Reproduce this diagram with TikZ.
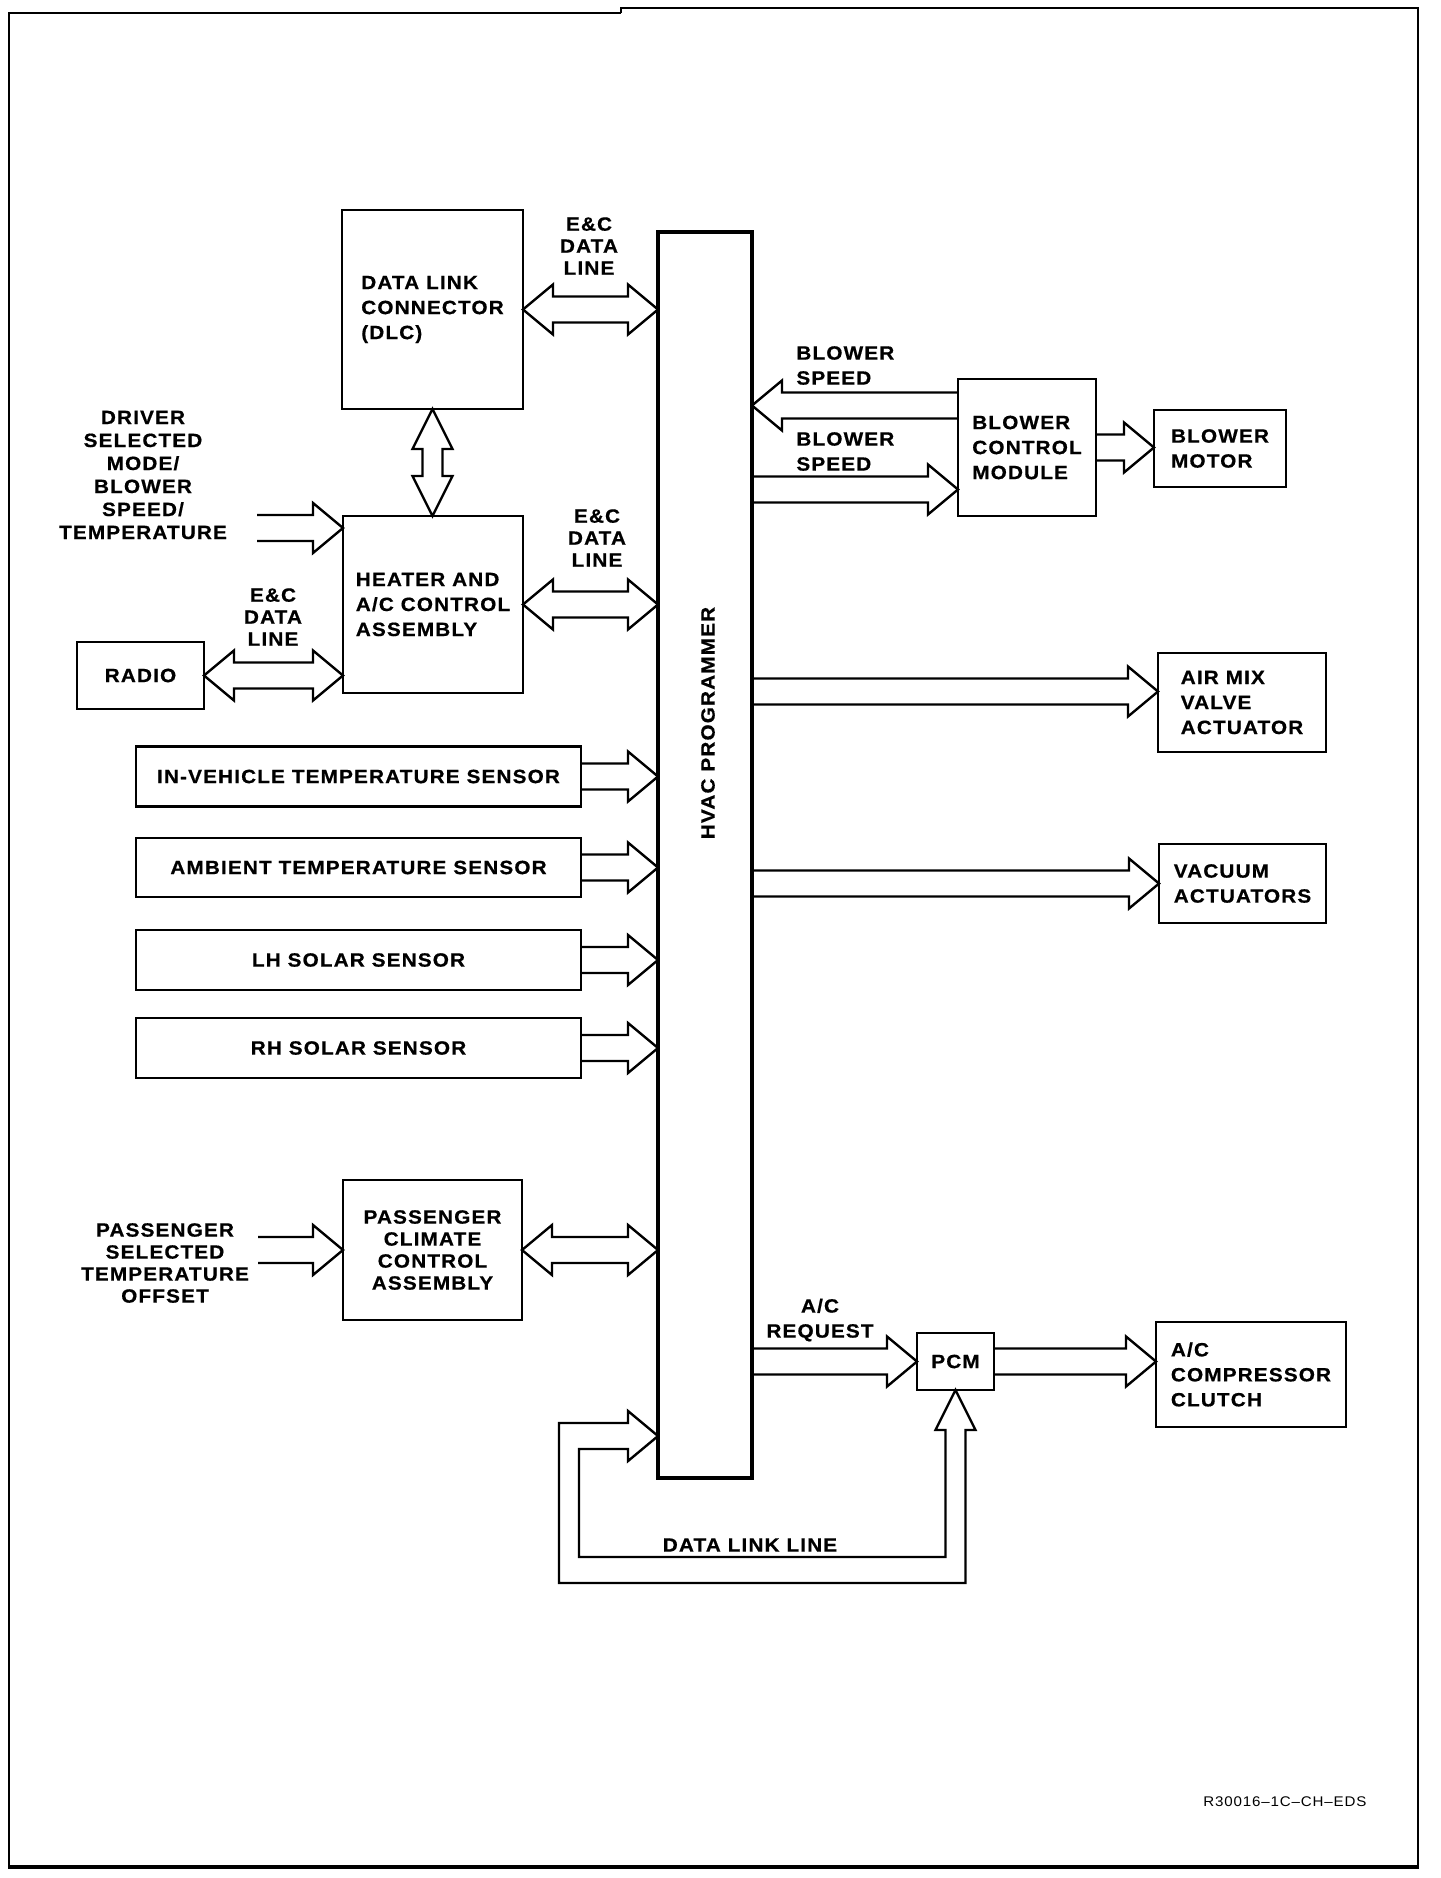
\documentclass[tikz,border=0pt]{standalone}
\usepackage{fontspec}
\setmainfont{Liberation Sans}[FakeStretch=1.08,LetterSpace=6,BoldFeatures={FakeBold=0.6}]
\usetikzlibrary{calc}

\tikzset{
  box/.style={draw,line width=1.4pt,inner sep=0pt,outer sep=0pt,align=center,
    font=\fontsize{9.6}{12.5}\selectfont\bfseries},
  tag/.style={inner sep=0pt,align=center,font=\fontsize{9.6}{11}\selectfont\bfseries},
  tagwide/.style={tag,font=\fontsize{9.6}{12.5}\selectfont\bfseries},
  fat/.style={draw,line width=1.2pt},
  fatR/.style={to path={let \p1=(\tikztostart),\p2=(\tikztotarget) in
    (\x1,\y1+6.5pt) -- (\x2-15pt,\y1+6.5pt) -- (\x2-15pt,\y1+12.5pt) -- (\x2,\y1)
    -- (\x2-15pt,\y1-12.5pt) -- (\x2-15pt,\y1-6.5pt) -- (\x1,\y1-6.5pt)}},
  fatL/.style={to path={let \p1=(\tikztostart),\p2=(\tikztotarget) in
    (\x1,\y1+6.5pt) -- (\x2+15pt,\y1+6.5pt) -- (\x2+15pt,\y1+12.5pt) -- (\x2,\y1)
    -- (\x2+15pt,\y1-12.5pt) -- (\x2+15pt,\y1-6.5pt) -- (\x1,\y1-6.5pt)}},
  fatLR/.style={to path={let \p1=(\tikztostart),\p2=(\tikztotarget) in
    (\x1,\y1) -- (\x1+15pt,\y1+12.5pt) -- (\x1+15pt,\y1+6.5pt) -- (\x2-15pt,\y1+6.5pt)
    -- (\x2-15pt,\y1+12.5pt) -- (\x2,\y1) -- (\x2-15pt,\y1-12.5pt) -- (\x2-15pt,\y1-6.5pt)
    -- (\x1+15pt,\y1-6.5pt) -- (\x1+15pt,\y1-12.5pt) -- cycle}},
  fatUD/.style={to path={let \p1=(\tikztostart),\p2=(\tikztotarget) in
    (\x1,\y1) -- (\x1+10pt,\y1-20pt) -- (\x1+5pt,\y1-20pt) -- (\x1+5pt,\y2+20pt)
    -- (\x1+10pt,\y2+20pt) -- (\x1,\y2) -- (\x1-10pt,\y2+20pt) -- (\x1-5pt,\y2+20pt)
    -- (\x1-5pt,\y1-20pt) -- (\x1-10pt,\y1-20pt) -- cycle}}
}

\begin{document}
\begin{tikzpicture}[x=0.5pt,y=-0.5pt]
\useasboundingbox (0,0) rectangle (1440,1878);
\draw[line width=1pt] (621,13) -- (9,13) -- (9,1867);
\draw[line width=2pt] (8,1867) -- (1419,1867);
\draw[line width=1pt] (1418,1867) -- (1418,8) -- (621,8) -- (621,13);

\node[box,minimum width=90.5pt,minimum height=99.5pt,align=left] (dlc) at (432.5,309.5) {DATA LINK\\CONNECTOR\\(DLC)};
\node[box,minimum width=90pt,minimum height=88.5pt,align=left] (heater) at (433,604.5) {HEATER AND\\A/C CONTROL\\ASSEMBLY};
\node[box,minimum width=63.5pt,minimum height=33.5pt] (radio) at (140.5,675.5) {RADIO};
\node[box,minimum width=222.5pt,minimum height=30pt] (invehicle) at (358.5,776.5) {IN-VEHICLE TEMPERATURE SENSOR};
\node[box,minimum width=222.5pt,minimum height=29.5pt] (ambient) at (358.5,867.5) {AMBIENT TEMPERATURE SENSOR};
\node[box,minimum width=222.5pt,minimum height=30pt] (lhsolar) at (358.5,960) {LH SOLAR SENSOR};
\node[box,minimum width=222.5pt,minimum height=30pt] (rhsolar) at (358.5,1048) {RH SOLAR SENSOR};
\node[box,line width=1.6pt,minimum width=47pt,minimum height=623pt] (hvac) at (705,855) {};
\node[tag,rotate=90] (hvaclbl) at (708,723) {HVAC PROGRAMMER};
\node[box,minimum width=69pt,minimum height=68.5pt,align=left] (bcm) at (1027,447.5) {BLOWER\\CONTROL\\MODULE};
\node[box,minimum width=66pt,minimum height=38.5pt,align=left] (motor) at (1220,448.5) {BLOWER\\MOTOR};
\node[box,minimum width=84pt,minimum height=49.5pt,align=left] (airmix) at (1242,702.5) {AIR MIX\\VALVE\\ACTUATOR};
\node[box,minimum width=83.5pt,minimum height=39.5pt,align=left] (vacuum) at (1242.5,883.5) {VACUUM\\ACTUATORS};
\node[box,minimum width=89.5pt,minimum height=70pt,font=\fontsize{9.6}{11}\selectfont\bfseries] (pca) at (432.5,1250) {PASSENGER\\CLIMATE\\CONTROL\\ASSEMBLY};
\node[box,minimum width=38.5pt,minimum height=28.5pt] (pcm) at (955.5,1361.5) {PCM};
\node[box,minimum width=95pt,minimum height=52.5pt,align=left] (comp) at (1251,1374.5) {A/C\\COMPRESSOR\\CLUTCH};

\node[tag] (ecdlc) at (589,246) {E\&C\\DATA\\LINE};
\node[tag] (echeater) at (597,538) {E\&C\\DATA\\LINE};
\node[tag] (ecradio) at (273,617) {E\&C\\DATA\\LINE};
\node[tag,font=\fontsize{9.6}{11.5}\selectfont\bfseries] (driver) at (143,475) {DRIVER\\SELECTED\\MODE/\\BLOWER\\SPEED/\\TEMPERATURE};
\node[tag] (passenger) at (165,1263) {PASSENGER\\SELECTED\\TEMPERATURE\\OFFSET};
\node[tagwide,anchor=west,align=left] (speedup) at (796,365.5) {BLOWER\\SPEED};
\node[tagwide,anchor=west,align=left] (speeddn) at (796,451.5) {BLOWER\\SPEED};
\node[tagwide] (acreq) at (820,1320) {A/C\\REQUEST};
\node[tag] (dlline) at (750,1545) {DATA LINK LINE};
\node[tag,font=\fontsize{7}{8}\selectfont] (code) at (1285,1802) {R30016--1C--CH--EDS};

\coordinate (drvtail) at (257,528);
\coordinate (pastail) at (258,1250);
\coordinate (bcmup) at ([yshift=21pt]bcm.west);
\coordinate (bcmdn) at ([yshift=-21pt]bcm.west);
\coordinate (mixin) at ([yshift=5.5pt]airmix.west);
\coordinate (dlrow) at (0,1436);

\draw[fat] (dlc.east) to[fatLR] (dlc.east -| hvac.west);
\draw[fat] (dlc.south) to[fatUD] (heater.north);
\draw[fat] (heater.east) to[fatLR] (heater.east -| hvac.west);
\draw[fat] (radio.east) to[fatLR] (radio.east -| heater.west);
\draw[fat] (drvtail) to[fatR] (drvtail -| heater.west);
\foreach \s in {invehicle,ambient,lhsolar,rhsolar}
  \draw[fat] (\s.east) to[fatR] (\s.east -| hvac.west);
\draw[fat] (pastail) to[fatR] (pastail -| pca.west);
\draw[fat] (pca.east) to[fatLR] (pca.east -| hvac.west);
\draw[fat] (bcmup) to[fatL] (bcmup -| hvac.east);
\draw[fat] (bcmdn -| hvac.east) to[fatR] (bcmdn);
\draw[fat] (bcm.east) to[fatR] (bcm.east -| motor.west);
\draw[fat] (mixin -| hvac.east) to[fatR] (mixin);
\draw[fat] (vacuum.west -| hvac.east) to[fatR] (vacuum.west);
\draw[fat] (pcm.west -| hvac.east) to[fatR] (pcm.west);
\draw[fat] (pcm.east) to[fatR] (pcm.east -| comp.west);
\draw[fat] let \p1=(hvac.west |- dlrow), \p2=(pcm.south) in
  (\p1) -- (\x1-15pt,\y1+12.5pt) -- (\x1-15pt,\y1+6.5pt) -- (\x1-49.5pt,\y1+6.5pt)
  -- (\x1-49.5pt,\y1-73.5pt) -- (\x2+5pt,\y1-73.5pt) -- (\x2+5pt,\y2-20pt)
  -- (\x2+10pt,\y2-20pt) -- (\p2) -- (\x2-10pt,\y2-20pt) -- (\x2-5pt,\y2-20pt)
  -- (\x2-5pt,\y1-60.5pt) -- (\x1-39.5pt,\y1-60.5pt) -- (\x1-39.5pt,\y1-6.5pt)
  -- (\x1-15pt,\y1-6.5pt) -- (\x1-15pt,\y1-12.5pt) -- cycle;
\end{tikzpicture}
\end{document}
